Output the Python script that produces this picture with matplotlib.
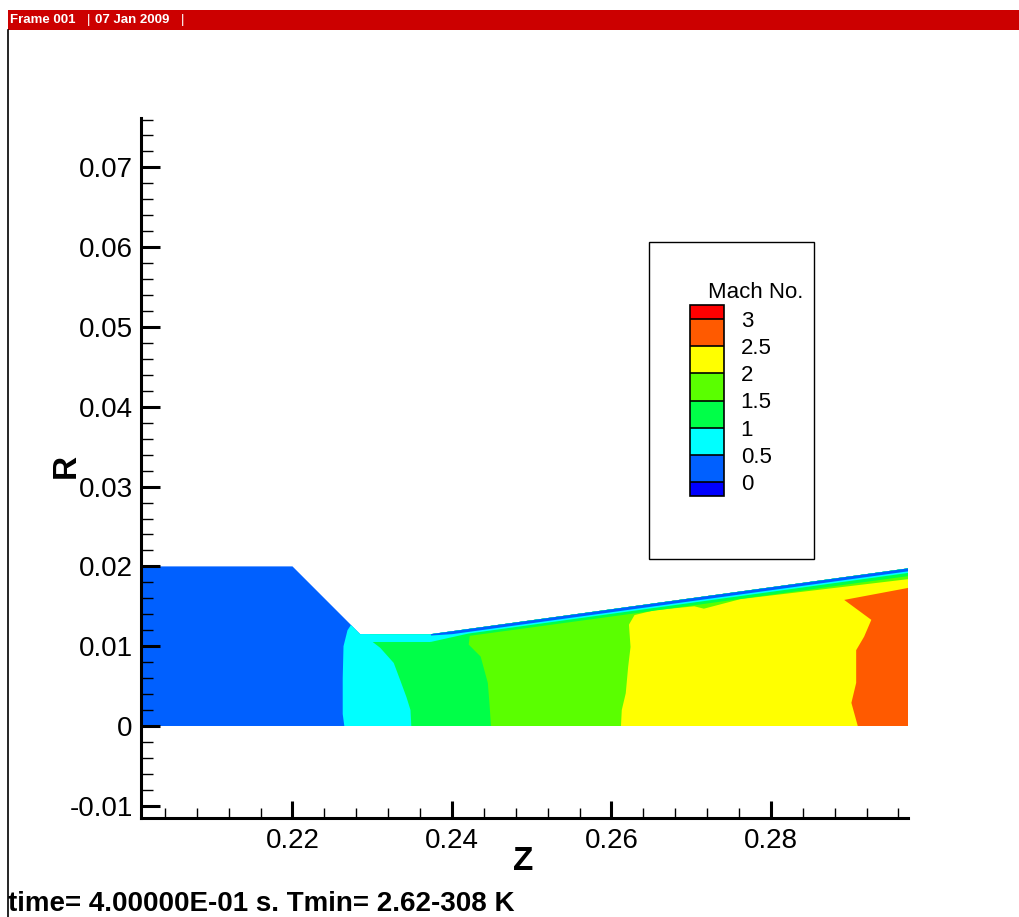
import numpy as np
import matplotlib
matplotlib.use("Agg")
import matplotlib.pyplot as plt
import matplotlib.cm as cm
from matplotlib.colors import ListedColormap, BoundaryNorm
from matplotlib.patches import Polygon, Rectangle
from matplotlib.lines import Line2D
from matplotlib.ticker import MultipleLocator, FormatStrFormatter

plt.rcParams['font.family'] = ['Liberation Sans', 'DejaVu Sans']

# nozzle wall profile (Z, R)
wall_z = [0.2000, 0.2200, 0.2285, 0.2373, 0.2972]
wall_r = [0.0200, 0.0200, 0.0115, 0.0115, 0.01975]

# Mach levels and legend colours (below 0 ... above 3)
mach_levels = [0, 0.5, 1, 1.5, 2, 2.5, 3]
level_labels = ['0', '0.5', '1', '1.5', '2', '2.5', '3']
band_colors = ['#0000FF', '#0060FF', '#00FFFF', '#00FF48',
               '#5AFF00', '#FFFF00', '#FF5A00', '#FF0000']

# iso-Mach lines, from the axis (R=0) upward
m05_z = [0.2265, 0.2263, 0.2263, 0.2264, 0.2269, 0.2273]
m05_r = [0.0000, 0.0015, 0.0060, 0.0100, 0.0120, 0.0126]
m10_z = [0.2349, 0.2348, 0.2343, 0.2336, 0.2327, 0.2310, 0.2299, 0.2297]
m10_r = [0.0000, 0.0020, 0.0036, 0.0055, 0.0079, 0.0098, 0.01065, 0.0112]
m15_z = [0.2449, 0.2447, 0.2445, 0.2436, 0.2421, 0.2423]
m15_r = [0.0000, 0.0029, 0.0054, 0.0087, 0.0102, 0.0118]
m20_z = [0.2612, 0.2613, 0.2618, 0.2621, 0.2624, 0.2622, 0.2629,
         0.2654, 0.2704, 0.2716, 0.2762, 0.2821, 0.2905, 0.2972]
m20_r = [0.0000, 0.0020, 0.0041, 0.0074, 0.0099, 0.0127, 0.0139,
         0.0145, 0.0150, 0.0147, 0.0159, 0.0166, 0.0176, 0.0184]
m25_z = [0.2909, 0.2901, 0.2907, 0.2907, 0.2917, 0.2926, 0.2892, 0.2972]
m25_r = [0.0000, 0.0029, 0.0054, 0.0095, 0.0112, 0.0133, 0.0158, 0.0173]
iso_lines = [(m05_z, m05_r, True), (m10_z, m10_r, True), (m15_z, m15_r, True),
             (m20_z, m20_r, False), (m25_z, m25_r, False)]

# slow layers along the wall: depth below the wall at a few Z stations
green_wall_z = [0.2373, 0.2972]
green_wall_d = [0.0008, 0.0009]
cyan_wall_z = [0.2285, 0.2373, 0.2420, 0.2972]
cyan_wall_d = [0.0009, 0.0009, 0.0005, 0.0005]
blue_wall_z = [0.2373, 0.2400, 0.2972]
blue_wall_d = [0.0001, 0.0003, 0.0003]

W, H = 1019, 917
fig = plt.figure(figsize=(W / 100, H / 100), dpi=100)
ax = fig.add_axes([141 / W, 1 - 818 / H, 767 / W, 700 / H])
ax.set_xlim(0.2010, 0.2972)
ax.set_ylim(-0.01153, 0.07619)

# nozzle filled with the lowest band, later bands painted on top
nozzle = Polygon(np.column_stack([wall_z + [wall_z[-1], wall_z[0]], wall_r + [0, 0]]),
                 closed=True, facecolor=band_colors[1], edgecolor='none', zorder=1)
ax.add_patch(nozzle)

Z_OUT, R_OUT = 0.31, 0.03
for i, (zs, rs, at_wall) in enumerate(iso_lines):
    pts = list(zip(zs, rs))
    if at_wall:
        pts += [(zs[-1], R_OUT), (Z_OUT, R_OUT), (Z_OUT, 0)]
    else:
        pts += [(Z_OUT, rs[-1]), (Z_OUT, 0)]
    band = Polygon(pts, closed=True, facecolor=band_colors[i + 2], edgecolor='none', zorder=2)
    ax.add_patch(band)
    band.set_clip_path(nozzle)

for sz, sd, ci in [(green_wall_z, green_wall_d, 3), (cyan_wall_z, cyan_wall_d, 2),
                   (blue_wall_z, blue_wall_d, 1)]:
    zz = np.union1d(sz, [z for z in wall_z if sz[0] <= z <= sz[-1]])
    rw = np.interp(zz, wall_z, wall_r)
    dd = np.interp(zz, sz, sd)
    coll = ax.fill_between(zz, rw - dd, rw + 0.002, color=band_colors[ci], lw=0, zorder=3)
    coll.set_clip_path(nozzle)

# axes styling
for s in ['top', 'right']:
    ax.spines[s].set_visible(False)
for s in ['left', 'bottom']:
    ax.spines[s].set_linewidth(2.2)
ax.xaxis.set_major_locator(MultipleLocator(0.02))
ax.xaxis.set_minor_locator(MultipleLocator(0.004))
ax.yaxis.set_major_locator(MultipleLocator(0.01))
ax.yaxis.set_minor_locator(MultipleLocator(0.002))
ax.xaxis.set_major_formatter(FormatStrFormatter('%g'))
ax.yaxis.set_major_formatter(FormatStrFormatter('%g'))
ax.tick_params(which='both', direction='in', top=False, right=False, labelsize=20)
ax.tick_params(axis='x', which='major', length=12, width=2.2, pad=7)
ax.tick_params(axis='x', which='minor', length=7, width=1.0)
ax.tick_params(axis='y', which='major', length=14, width=2.2, pad=6)
ax.tick_params(axis='y', which='minor', length=8.5, width=1.0)

fig.text(523 / W, 1 - 862 / H, 'Z', fontsize=24, fontweight='bold', ha='center', va='center')
fig.text(66 / W, 1 - 466 / H, 'R', fontsize=24, fontweight='bold', rotation=90,
         ha='center', va='center')

# legend box with colour bar
fig.add_artist(Rectangle((649 / W, 1 - 559 / H), 165 / W, 317 / H, transform=fig.transFigure,
                         fill=False, edgecolor='black', lw=1))
cax = fig.add_axes([690 / W, 1 - 496 / H, 34 / W, 191 / H])
cmap = ListedColormap(band_colors[1:-1])
cmap.set_under(band_colors[0])
cmap.set_over(band_colors[-1])
norm = BoundaryNorm(mach_levels, cmap.N)
cb = fig.colorbar(cm.ScalarMappable(norm=norm, cmap=cmap), cax=cax, extend='both',
                  extendrect=True, extendfrac=1 / 12, drawedges=True, ticks=mach_levels)
cb.set_ticklabels(level_labels)
cb.ax.tick_params(length=0, labelsize=16, pad=12)
cb.outline.set_linewidth(1.2)
cb.dividers.set_linewidth(1.2)
fig.text(708 / W, 1 - 293 / H, 'Mach No.', fontsize=16, ha='left', va='center')

# frame header and border
fig.add_artist(Rectangle((8 / W, 1 - 30 / H), 1, 20 / H, transform=fig.transFigure,
                         facecolor='#CC0000', edgecolor='none'))
hdr_y = 1 - 20 / H
fig.text(10 / W, hdr_y, 'Frame 001', color='white', fontsize=9.5, fontweight='bold', va='center')
fig.text(87 / W, hdr_y, '|', color='white', fontsize=9.5, va='center')
fig.text(95 / W, hdr_y, '07 Jan 2009', color='white', fontsize=9.5, fontweight='bold', va='center')
fig.text(181 / W, hdr_y, '|', color='white', fontsize=9.5, va='center')
fig.add_artist(Line2D([8 / W, 8 / W], [0, 1 - 30 / H], transform=fig.transFigure,
                      color='black', lw=1.2))

fig.text(8 / W, 6 / H, 'time= 4.00000E-01 s. Tmin= 2.62-308 K', fontsize=20, fontweight='bold',
         va='baseline')

fig.savefig('out.png', dpi=100)
